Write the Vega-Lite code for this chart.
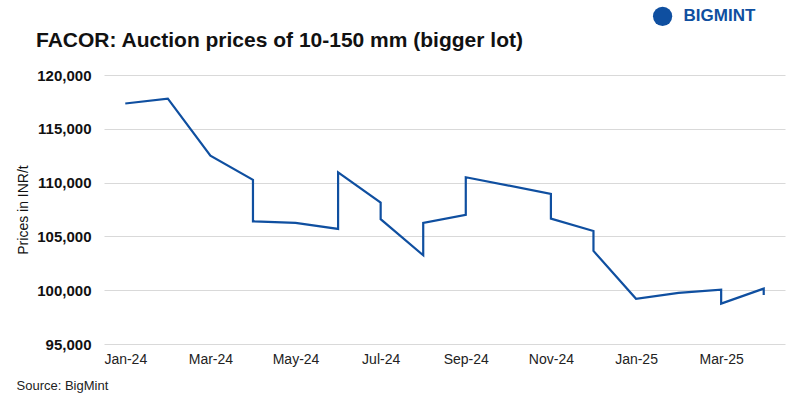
{
  "$schema": "https://vega.github.io/schema/vega-lite/v6.json",
  "width": 681,
  "height": 269,
  "autosize": {"type": "none"},
  "padding": {"left": 104, "top": 75, "right": 15, "bottom": 54},
  "background": "white",
  "config": {
    "font": "Liberation Sans",
    "view": {"stroke": null}
  },
  "title": {
    "text": "FACOR: Auction prices of 10-150 mm (bigger lot)",
    "anchor": "start",
    "frame": "group",
    "fontSize": 21,
    "fontWeight": "bold",
    "color": "#111111",
    "baseline": "alphabetic",
    "offset": -61,
    "dx": -68
  },
  "layer": [
    {
      "data": {
        "values": [
          {"seq": 1, "month": "Jan-24", "price": 117350},
          {"seq": 2, "month": "Feb-24", "price": 117800},
          {"seq": 3, "month": "Mar-24", "price": 112500},
          {"seq": 4, "month": "Apr-24", "price": 110250},
          {"seq": 5, "month": "Apr-24", "price": 106400},
          {"seq": 6, "month": "May-24", "price": 106250},
          {"seq": 7, "month": "Jun-24", "price": 105700},
          {"seq": 8, "month": "Jun-24", "price": 110950},
          {"seq": 9, "month": "Jul-24", "price": 108150},
          {"seq": 10, "month": "Jul-24", "price": 106600},
          {"seq": 11, "month": "Aug-24", "price": 103250},
          {"seq": 12, "month": "Aug-24", "price": 106250},
          {"seq": 13, "month": "Sep-24", "price": 107000},
          {"seq": 14, "month": "Sep-24", "price": 110500},
          {"seq": 15, "month": "Nov-24", "price": 108950},
          {"seq": 16, "month": "Nov-24", "price": 106650},
          {"seq": 17, "month": "Dec-24", "price": 105500},
          {"seq": 18, "month": "Dec-24", "price": 103650},
          {"seq": 19, "month": "Jan-25", "price": 99200},
          {"seq": 20, "month": "Feb-25", "price": 99750},
          {"seq": 21, "month": "Mar-25", "price": 100050},
          {"seq": 22, "month": "Mar-25", "price": 98750},
          {"seq": 23, "month": "Apr-25", "price": 100150},
          {"seq": 24, "month": "Apr-25", "price": 99550}
        ]
      },
      "mark": {"type": "line", "color": "#0f4fa0", "strokeWidth": 2.2, "strokeJoin": "miter"},
      "encoding": {
        "x": {
          "field": "month",
          "type": "ordinal",
          "scale": {
            "type": "point",
            "padding": 0.5,
            "domain": ["Jan-24","Feb-24","Mar-24","Apr-24","May-24","Jun-24","Jul-24","Aug-24","Sep-24","Oct-24","Nov-24","Dec-24","Jan-25","Feb-25","Mar-25","Apr-25"]
          },
          "axis": {
            "values": ["Jan-24","Mar-24","May-24","Jul-24","Sep-24","Nov-24","Jan-25","Mar-25"],
            "labelAngle": 0,
            "labelFontSize": 14,
            "labelColor": "#222222",
            "labelPadding": 8,
            "ticks": false,
            "domain": false,
            "grid": false,
            "title": "Source: BigMint",
            "titleFontSize": 13,
            "titleFontWeight": "normal",
            "titleColor": "#222222",
            "titleAlign": "left",
            "titleBaseline": "alphabetic",
            "titleX": -88,
            "titleY": 45
          }
        },
        "y": {
          "field": "price",
          "type": "quantitative",
          "scale": {"domain": [95000, 120000], "nice": false, "zero": false},
          "axis": {
            "values": [95000, 100000, 105000, 110000, 115000, 120000],
            "format": ",.0f",
            "labelFontSize": 15,
            "labelFontWeight": "bold",
            "labelColor": "#111111",
            "labelPadding": 13,
            "ticks": false,
            "domain": false,
            "grid": true,
            "gridColor": "#d9d9d9",
            "gridWidth": 1,
            "title": "Prices in INR/t",
            "titleFontSize": 14,
            "titleFontWeight": "normal",
            "titleColor": "#111111",
            "titlePadding": 6
          }
        },
        "order": {"field": "seq", "type": "quantitative"}
      }
    },
    {
      "data": {"values": [{"brand": "BIGMINT"}]},
      "mark": {"type": "point", "shape": "circle", "filled": true, "opacity": 1, "size": 370, "color": "#0f4fa0", "xOffset": -16},
      "encoding": {
        "x": {"datum": "Feb-25", "type": "ordinal"},
        "y": {"datum": 125450, "type": "quantitative"}
      }
    },
    {
      "data": {"values": [{"brand": "BIGMINT"}]},
      "mark": {"type": "text", "align": "left", "baseline": "middle", "dx": 5, "fontSize": 17, "fontWeight": "bold", "color": "#0f4fa0"},
      "encoding": {
        "x": {"datum": "Feb-25", "type": "ordinal"},
        "y": {"datum": 125450, "type": "quantitative"},
        "text": {"field": "brand"}
      }
    }
  ]
}
